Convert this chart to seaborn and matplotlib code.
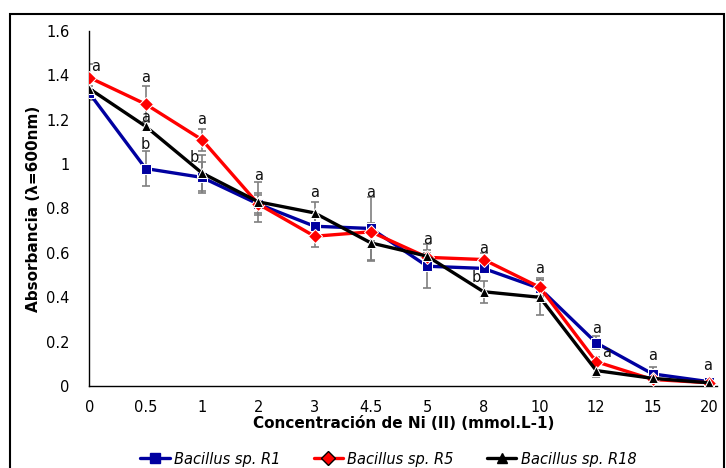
import numpy as np
import pandas as pd
import matplotlib
matplotlib.use("Agg")
import matplotlib.pyplot as plt
import seaborn as sns
from matplotlib.patches import Rectangle

concentraciones = ["0", "0.5", "1", "2", "3", "4.5", "5", "8", "10", "12", "15", "20"]

r1 = [1.32, 0.98, 0.94, 0.82, 0.72, 0.71, 0.54, 0.53, 0.44, 0.195, 0.055, 0.02]
r5 = [1.39, 1.27, 1.11, 0.82, 0.675, 0.695, 0.58, 0.57, 0.445, 0.11, 0.03, 0.015]
r18 = [1.34, 1.17, 0.96, 0.83, 0.78, 0.645, 0.585, 0.425, 0.40, 0.07, 0.035, 0.015]

r1_err = [0.03, 0.08, 0.07, 0.05, 0.04, 0.14, 0.10, 0.02, 0.04, 0.03, 0.03, 0.01]
r5_err = [0.06, 0.08, 0.05, 0.04, 0.05, 0.04, 0.02, 0.03, 0.04, 0.02, 0.01, 0.01]
r18_err = [0.03, 0.02, 0.08, 0.09, 0.05, 0.08, 0.03, 0.05, 0.08, 0.03, 0.01, 0.01]

cepas = ["Bacillus sp. R1", "Bacillus sp. R5", "Bacillus sp. R18"]
colores = ["#0000A0", "#FF0000", "#000000"]
marcadores = ["s", "D", "^"]

# letras de significancia: (concentracion, y, texto, desplazamiento x)
letras = [
    ("0", 1.44, "a", 0.12),
    ("0.5", 1.39, "a", 0.0),
    ("0.5", 1.21, "a", 0.0),
    ("0.5", 1.09, "b", 0.0),
    ("1", 1.20, "a", 0.0),
    ("1", 1.03, "b", -0.13),
    ("2", 0.95, "a", 0.0),
    ("3", 0.87, "a", 0.0),
    ("4.5", 0.87, "a", 0.0),
    ("5", 0.66, "a", 0.0),
    ("8", 0.62, "a", 0.0),
    ("8", 0.49, "b", -0.13),
    ("10", 0.53, "a", 0.0),
    ("12", 0.26, "a", 0.0),
    ("12", 0.15, "a", 0.18),
    ("15", 0.14, "a", 0.0),
    ("20", 0.095, "a", -0.02),
]

df = pd.DataFrame({
    "conc": concentraciones * 3,
    "abs": r1 + r5 + r18,
    "err": r1_err + r5_err + r18_err,
    "cepa": [c for c in cepas for _ in concentraciones],
})

sns.set_style("white")
plt.rcParams["font.family"] = ["DejaVu Sans"]
plt.rcParams["text.color"] = "#000000"
plt.rcParams["axes.labelcolor"] = "#000000"
plt.rcParams["xtick.color"] = "#000000"
plt.rcParams["ytick.color"] = "#000000"

fig = plt.figure(figsize=(7.26, 4.68), dpi=100)
ax = fig.add_axes([0.123, 0.175, 0.865, 0.759])

x = np.arange(len(concentraciones))
for cepa, color in zip(cepas, colores):
    sub = df[df["cepa"] == cepa]
    ax.errorbar(x, sub["abs"], yerr=sub["err"], fmt="none", ecolor="#7f7f7f",
                elinewidth=1.2, capsize=3, capthick=1.2, zorder=2)

sns.lineplot(data=df, x="conc", y="abs", hue="cepa", style="cepa",
             palette=colores, markers=marcadores, dashes=False, sort=False,
             linewidth=2.4, markersize=7, ax=ax, zorder=3)

for line, color in zip(ax.lines[-3:], colores):
    line.set_markeredgecolor("#000000" if color == "#FF0000" else color)
    line.set_markeredgewidth(1.0)

for conc, yv, txt, dx in letras:
    ax.text(concentraciones.index(conc) + dx, yv, txt, ha="center", va="center",
            fontsize=10.5, color="#111111", zorder=4)

ax.set_xlim(0, 11.15)
ax.set_ylim(0, 1.6)
ax.set_yticks(np.arange(0, 1.61, 0.2))
ax.set_yticklabels(["0", "0.2", "0.4", "0.6", "0.8", "1", "1.2", "1.4", "1.6"])
ax.tick_params(axis="both", length=0, labelsize=10.5, pad=10)
ax.tick_params(axis="y", pad=14)
for s in ["top", "right"]:
    ax.spines[s].set_visible(False)
for s in ["left", "bottom"]:
    ax.spines[s].set_color("#000000")
    ax.spines[s].set_linewidth(1.0)

ax.set_xlabel("Concentración de Ni (II) (mmol.L-1)", fontsize=11, fontweight="bold", labelpad=1)
ax.set_ylabel("Absorbancia (λ=600nm)", fontsize=11, fontweight="bold", labelpad=4)

handles, labels = ax.get_legend_handles_labels()
ax.get_legend().remove()
leg = fig.legend(handles, labels, loc="lower center", bbox_to_anchor=(0.535, -0.025),
                 ncol=3, frameon=False, columnspacing=2.3, handlelength=2.0,
                 handletextpad=0.3, prop={"style": "italic", "size": 10.5})

fig.patches.append(Rectangle((10 / 726, -0.05), 1 - 12 / 726, 1 - 14 / 468 + 0.05,
                             transform=fig.transFigure, fill=False,
                             edgecolor="#000000", linewidth=1.5))

fig.savefig("out.png", dpi=100)
